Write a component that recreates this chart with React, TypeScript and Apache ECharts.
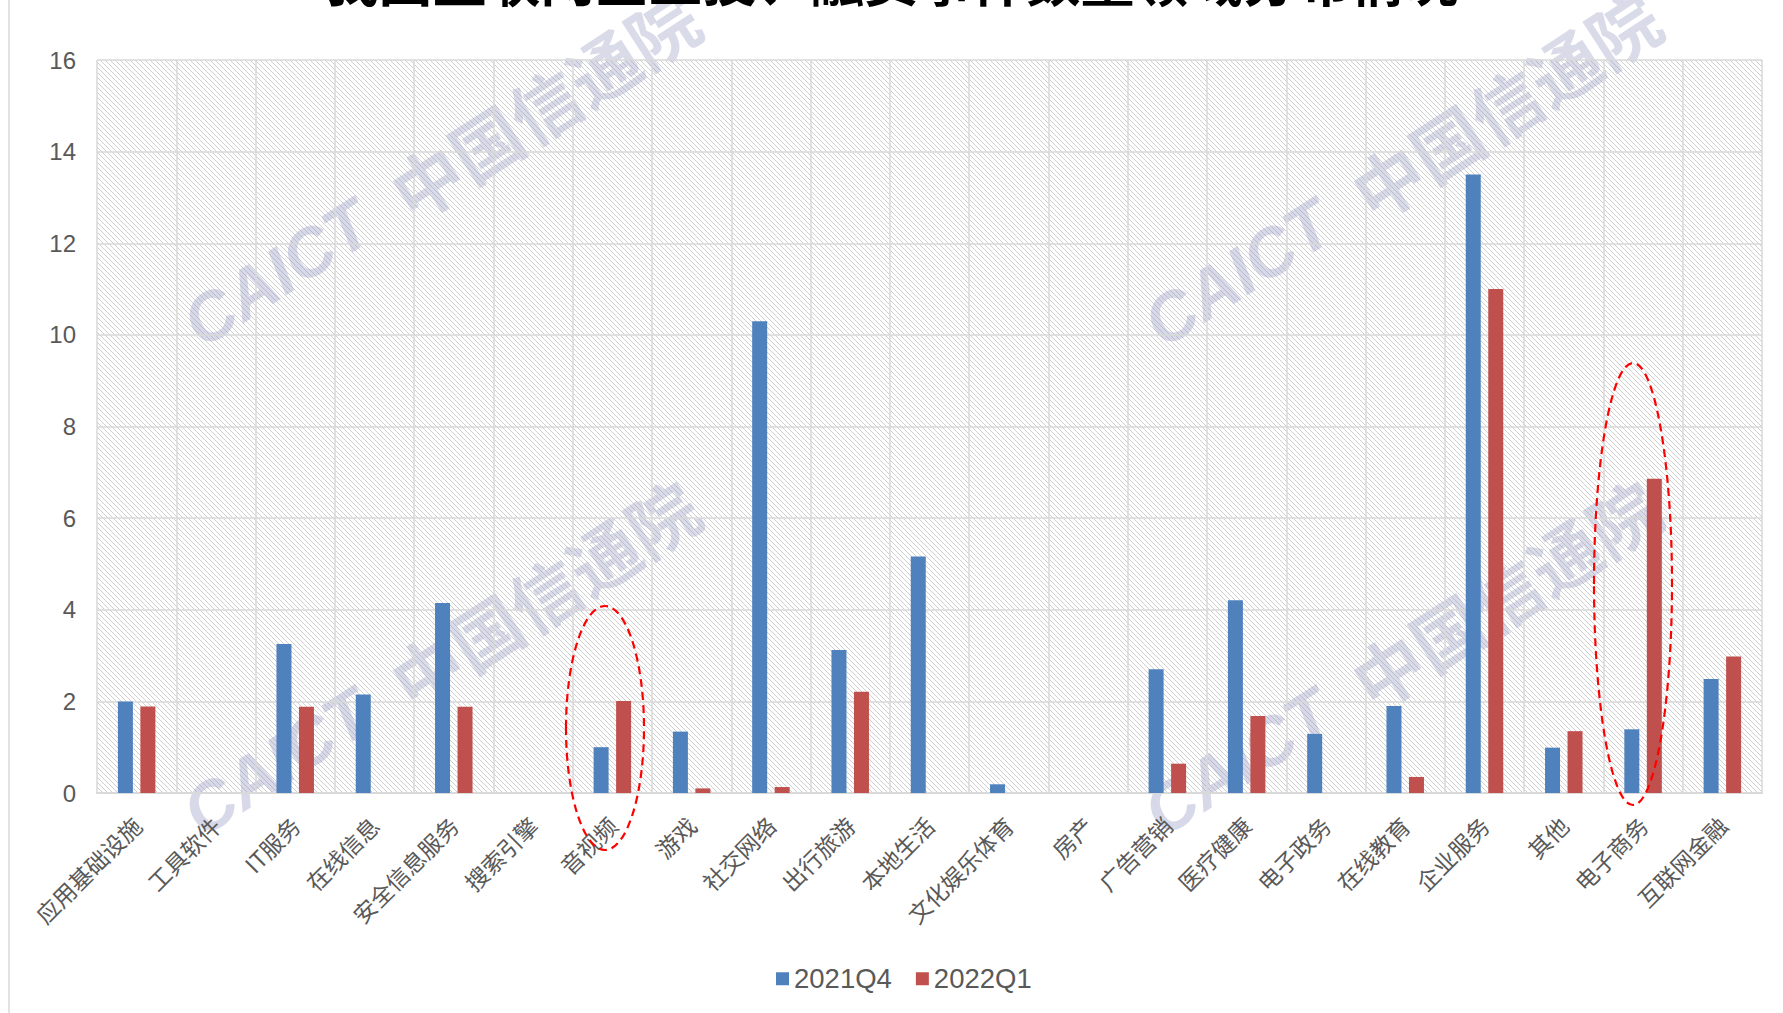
import React, { useEffect, useRef } from "react";
import * as echarts from "echarts";

const titleText = "我国互联网企业投、融资事件数量领域分布情况";
const categories = [
  "应用基础设施", "工具软件", "IT服务", "在线信息", "安全信息服务", "搜索引擎", "音视频",
  "游戏", "社交网络", "出行旅游", "本地生活", "文化娱乐体育", "房产", "广告营销",
  "医疗健康", "电子政务", "在线教育", "企业服务", "其他", "电子商务", "互联网金融",
];
const seriesNames = ["2021Q4", "2022Q1"];
const q4Values = [2.0, 0, 3.25, 2.15, 4.15, 0, 1.0, 1.34, 10.3, 3.12, 5.16, 0.19, 0, 2.7, 4.21, 1.29, 1.9, 13.5, 0.99, 1.39, 2.49];
const q1Values = [1.89, 0, 1.88, 0, 1.88, 0, 2.01, 0.1, 0.13, 2.21, 0, 0, 0, 0.64, 1.68, 0, 0.35, 11.0, 1.35, 6.86, 2.98];
const yTicks = { min: 0, max: 16, interval: 2 };

const FONT = "'Liberation Sans', 'Noto Sans CJK SC', sans-serif";

function makeHatch(): string {
  const s = 5;
  const c = document.createElement("canvas");
  c.width = s;
  c.height = s;
  const ctx = c.getContext("2d")!;
  ctx.fillStyle = "#ffffff";
  ctx.fillRect(0, 0, s, s);
  ctx.strokeStyle = "#cfcfcf";
  ctx.lineWidth = 1;
  for (const k of [-s, 0, s]) {
    ctx.beginPath();
    ctx.moveTo(k, 0);
    ctx.lineTo(k + s, s);
    ctx.stroke();
  }
  return c.toDataURL();
}

function watermark(x: number, y: number) {
  return {
    type: "group",
    x,
    y,
    rotation: 0.575,
    z: 100,
    silent: true,
    children: [
      {
        type: "line",
        shape: { x1: 95, y1: 16, x2: 235, y2: 16 },
        style: {
          stroke: new echarts.graphic.LinearGradient(0, 0, 1, 0, [
            { offset: 0, color: "rgba(150,160,200,0.3)" },
            { offset: 1, color: "rgba(245,170,100,0.4)" },
          ]),
          lineWidth: 3,
        },
      },
      {
        type: "text",
        x: 0,
        y: 0,
        style: {
          text: "CAICT",
          font: "italic bold 68px 'Liberation Sans', sans-serif",
          fill: "rgba(150,156,195,0.38)",
          verticalAlign: "bottom",
          align: "left",
        },
      },
      {
        type: "text",
        x: 245,
        y: 4,
        style: {
          text: "中国信通院",
          font: "bold 70px 'Noto Sans CJK SC', sans-serif",
          fill: "rgba(150,156,195,0.36)",
          verticalAlign: "bottom",
          align: "left",
        },
      },
    ],
  };
}

export default function App() {
  const ref = useRef<HTMLDivElement>(null);
  useEffect(() => {
    if (!ref.current) return;
    const chart = echarts.init(ref.current, undefined, { renderer: "svg" });
    const hatch = makeHatch();
    chart.setOption({
      animation: false,
      backgroundColor: "#ffffff",
      textStyle: { fontFamily: FONT },
      title: {
        text: titleText,
        left: "center",
        top: -54,
        textStyle: { fontSize: 54, fontWeight: "bold", color: "#000000", fontFamily: "'Noto Sans CJK SC', sans-serif" },
      },
      legend: {
        data: seriesNames,
        left: 771,
        top: 960,
        itemWidth: 13,
        itemHeight: 13,
        itemGap: 24,
        icon: "rect",
        textStyle: { fontSize: 27.5, color: "#595959", fontFamily: FONT },
      },
      grid: {
        left: 97,
        right: 21,
        top: 60,
        bottom: 220,
        show: true,
        backgroundColor: { image: hatch, repeat: "repeat" },
        borderWidth: 0,
      },
      xAxis: {
        type: "category",
        data: categories,
        boundaryGap: true,
        axisLine: { show: true, lineStyle: { color: "#d9d9d9", width: 2 } },
        axisTick: { show: false },
        splitLine: { show: true, lineStyle: { color: "#d9d9d9", width: 1.5 } },
        axisLabel: {
          rotate: 45,
          interval: 0,
          fontSize: 23,
          color: "#595959",
          margin: 28,
          fontFamily: "'Noto Sans CJK SC', sans-serif",
        },
      },
      yAxis: {
        type: "value",
        min: yTicks.min,
        max: yTicks.max,
        interval: yTicks.interval,
        axisLine: { show: false },
        axisTick: { show: false },
        splitLine: { show: true, lineStyle: { color: "#d9d9d9", width: 1.5 } },
        axisLabel: { fontSize: 24, color: "#595959", margin: 21, fontFamily: FONT },
      },
      series: [
        {
          name: seriesNames[0],
          type: "bar",
          data: q4Values,
          barWidth: 15,
          barGap: "50%",
          itemStyle: { color: "#4F81BD" },
        },
        {
          name: seriesNames[1],
          type: "bar",
          data: q1Values,
          barWidth: 15,
          barGap: "50%",
          itemStyle: { color: "#C0504D" },
        },
      ],
      graphic: [
        {
          type: "line",
          shape: { x1: 9, y1: 0, x2: 9, y2: 1013 },
          style: { stroke: "#d9d9d9", lineWidth: 1.5 },
          silent: true,
        },
        watermark(208, 358),
        watermark(1169, 358),
        watermark(208, 847),
        watermark(1169, 847),
        {
          type: "ellipse",
          shape: { cx: 605, cy: 728, rx: 39, ry: 122 },
          style: { fill: "none", stroke: "#ff0000", lineWidth: 2.2, lineDash: [8, 5] },
          z: 110,
          silent: true,
        },
        {
          type: "ellipse",
          shape: { cx: 1633, cy: 584, rx: 39, ry: 221 },
          style: { fill: "none", stroke: "#ff0000", lineWidth: 2.2, lineDash: [8, 5] },
          z: 110,
          silent: true,
        },
      ],
    });
    return () => chart.dispose();
  }, []);
  return (
    <div
      ref={ref}
      style={{ position: "fixed", left: 0, top: 0, width: 1783, height: 1013 }}
    />
  );
}
